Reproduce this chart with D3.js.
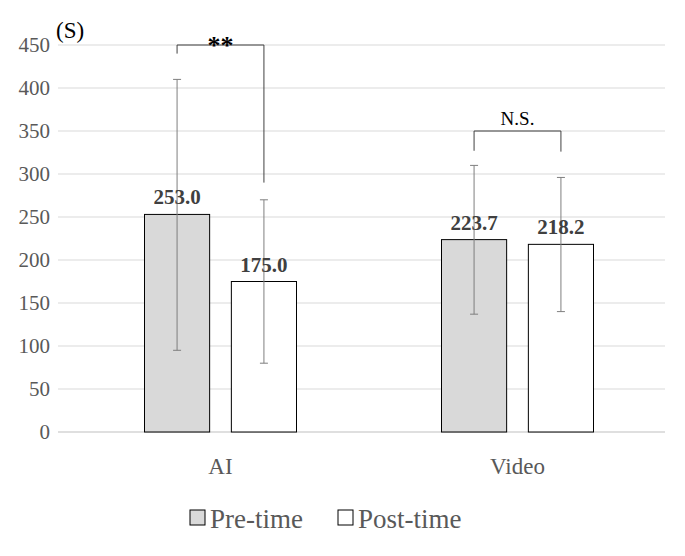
<!DOCTYPE html><html><head><meta charset="utf-8"><script src="https://cdn.jsdelivr.net/npm/d3@7"></script>
<style>body{margin:0;background:#fff}</style></head><body>
<svg id="c" width="685" height="556" font-family="'Liberation Serif','DejaVu Serif',serif"></svg>
<script>
const categories=["AI","Video"];
const seriesNames=["Pre-time","Post-time"];
const preValues=[253.0,223.7];
const postValues=[175.0,218.2];
const preErr=[[95,410],[137,310]];
const postErr=[[80,270],[140,296]];
const yTicks=[0,50,100,150,200,250,300,350,400,450];
const sigLabels=["**","N.S."];
const fills=["#d9d9d9","#ffffff"];

const svg=d3.select("#c");
const y=d3.scaleLinear().domain([0,450]).range([432,45]);
const x0=d3.scaleBand().domain(categories).range([72,666]);
const x1=d3.scaleBand().domain([0,1]).range([-76,76]).paddingInner(0.25);
svg.append("g").selectAll("line").data(yTicks).join("line")
 .attr("x1",58).attr("x2",665).attr("y1",d=>y(d)).attr("y2",d=>y(d))
 .attr("stroke",d=>d===0?"#bfbfbf":"#d9d9d9").attr("stroke-width",1);
svg.append("g").selectAll("text").data(yTicks).join("text")
 .attr("x",50).attr("y",d=>y(d)+7).attr("text-anchor","end").attr("font-size",21).attr("fill","#595959").text(d=>d);
svg.append("text").attr("x",56).attr("y",38).attr("font-size",23).attr("fill","#000").text("(S)");
const series=[preValues,postValues], errs=[preErr,postErr];
categories.forEach((c,i)=>{
  const cx=x0(c)+x0.bandwidth()/2;
  series.forEach((vals,s)=>{
    const bx=cx+x1(s), w=x1.bandwidth();
    svg.append("rect").attr("x",bx).attr("y",y(vals[i])).attr("width",w).attr("height",y(0)-y(vals[i]))
      .attr("fill",fills[s]).attr("stroke","#000").attr("stroke-width",1);
    const ex=bx+w/2, e=errs[s][i];
    svg.append("line").attr("x1",ex).attr("x2",ex).attr("y1",y(e[0])).attr("y2",y(e[1])).attr("stroke","#7f7f7f");
    [e[0],e[1]].forEach(v=>svg.append("line").attr("x1",ex-4).attr("x2",ex+4).attr("y1",y(v)).attr("y2",y(v)).attr("stroke","#7f7f7f"));
    svg.append("text").attr("x",ex).attr("y",y(vals[i])-10).attr("text-anchor","middle").attr("font-size",21)
      .attr("font-weight","bold").attr("fill","#404040").text(vals[i].toFixed(1));
  });
  svg.append("text").attr("x",cx).attr("y",474).attr("text-anchor","middle").attr("font-size",23).attr("fill","#595959").text(c);
});
const brackets=[{i:0,top:450,l:440,r:290},{i:1,top:350,l:327,r:326}];
brackets.forEach(b=>{
  const cx=x0(categories[b.i])+x0.bandwidth()/2;
  const xl=cx+x1(0)+x1.bandwidth()/2, xr=cx+x1(1)+x1.bandwidth()/2;
  svg.append("path").attr("d",`M${xl},${y(b.l)}V${y(b.top)}H${xr}V${y(b.r)}`).attr("fill","none").attr("stroke","#404040");
  svg.append("text").attr("x",(xl+xr)/2).attr("y",b.i===0?y(b.top)+9:y(b.top)-6).attr("text-anchor","middle")
    .attr("font-size",b.i===0?26:19).attr("font-weight",b.i===0?"bold":"normal").attr("fill","#000").text(sigLabels[b.i]);
});
const lx=[190,338];
seriesNames.forEach((n,s)=>{
  svg.append("rect").attr("x",lx[s]).attr("y",510).attr("width",15).attr("height",15).attr("fill",fills[s]).attr("stroke","#000");
  svg.append("text").attr("x",lx[s]+20).attr("y",528).attr("font-size",27).attr("fill","#595959").text(n);
});
</script></body></html>
